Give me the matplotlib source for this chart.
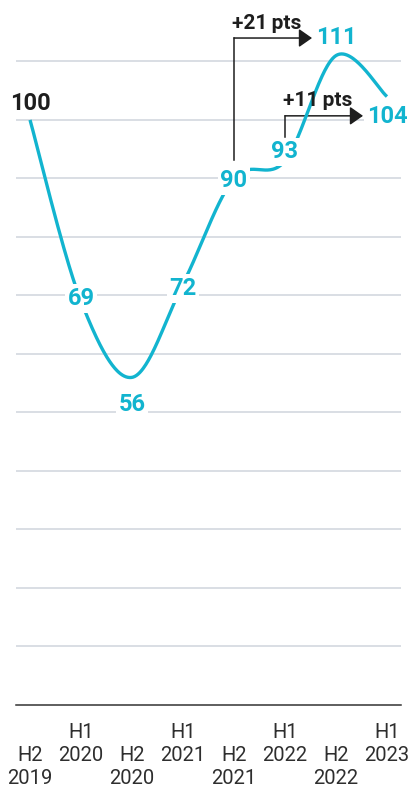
import numpy as np
import matplotlib
matplotlib.use("Agg")
import matplotlib.pyplot as plt

plt.rcParams['font.family'] = ['Roboto', 'DejaVu Sans']

# Index values by half-year (H2 2019 = 100)
periods = ["H2 2019", "H1 2020", "H2 2020", "H1 2021", "H2 2021", "H1 2022", "H2 2022", "H1 2023"]
values = [100, 69, 56, 72, 90, 93, 111, 104]
# label offsets (pixels) relative to each point
label_dy = [16, 3, -27, -5, -2, 9, 18, -20]

# Change annotations: (start index, end index, text)
changes = [(4, 6, "+21\u2009pts"), (5, 7, "+11\u2009pts")]

CYAN = "#12b4cf"
DARK = "#1e1e1e"
GRID = "#cfd5dc"


def cardinal_curve(xs, ys, n=60):
    """Cardinal spline (tension 0) through the points, drawn as cubic Beziers."""
    P = np.column_stack([xs, ys]).astype(float)
    ext = np.vstack([P[0], P, P[-1]])
    out = []
    for i in range(len(P) - 1):
        p0, p1, p2, p3 = ext[i], ext[i + 1], ext[i + 2], ext[i + 3]
        c1 = p1 + (p2 - p0) / 6
        c2 = p2 - (p3 - p1) / 6
        t = np.linspace(0, 1, n)[:, None]
        seg = ((1 - t) ** 3) * p1 + 3 * ((1 - t) ** 2) * t * c1 + 3 * (1 - t) * t**2 * c2 + t**3 * p2
        out.append(seg)
    pts = np.vstack(out)
    return pts[:, 0], pts[:, 1]


W, H = 410, 793
fig = plt.figure(figsize=(W / 100, H / 100), dpi=100)
ax = fig.add_axes([16 / W, 88 / H, 385 / W, 705 / H])

x = np.arange(len(values))
ax.set_xlim(-0.275, 7.275)
ax.set_ylim(0, 120.5)

for gy in range(10, 120, 10):
    ax.axhline(gy, color=GRID, lw=1.1, zorder=0)

cx, cy = cardinal_curve(x, values)
ax.plot(cx, cy, color=CYAN, lw=2.4, solid_capstyle='butt', zorder=2)

for i, (v, dy) in enumerate(zip(values, label_dy)):
    color = DARK if i == 0 else CYAN
    bbox = None if i == 0 else dict(boxstyle="square,pad=0.12", fc="white", ec="none")
    ax.annotate(str(v), (i, v), xytext=(0, dy * 0.72), textcoords="offset points",
                ha="center", va="center", fontsize=17, fontweight="bold",
                color=color, bbox=bbox, zorder=3)

# change brackets: vertical rise from the start point, then arrow to the right
for start, end, text in changes:
    y0 = values[start] + (3.2 if start == 4 else 4.1)
    top = 114.0 if start == 4 else 100.7
    tip = end - 0.47
    ax.plot([start, start], [y0, top], color=DARK, lw=1.1, zorder=1)
    ax.annotate("", xy=(tip, top), xytext=(start, top),
                arrowprops=dict(arrowstyle="-|>,head_length=0.4,head_width=0.28",
                                color=DARK, lw=1.1, shrinkA=0, shrinkB=0,
                                mutation_scale=20), zorder=1)
    ax.text(start - 0.03, top + 1.6, text, ha="left", va="baseline", fontsize=15,
            fontweight="bold", color=DARK, zorder=3)

labels = []
for i, p in enumerate(periods):
    half, year = p.split()
    labels.append(f"{half}\n{year}\n " if half == "H1" else f" \n{half}\n{year}")
ax.set_xticks(x)
ax.set_xticklabels(labels, fontsize=14.5, color="#2e2e2e", linespacing=1.27)
ax.tick_params(axis="x", length=0, pad=13)
ax.set_yticks([])

for side in ["left", "right", "top"]:
    ax.spines[side].set_visible(False)
ax.spines["bottom"].set_color("#333333")
ax.spines["bottom"].set_linewidth(1.1)

fig.savefig("out.png", dpi=100)
